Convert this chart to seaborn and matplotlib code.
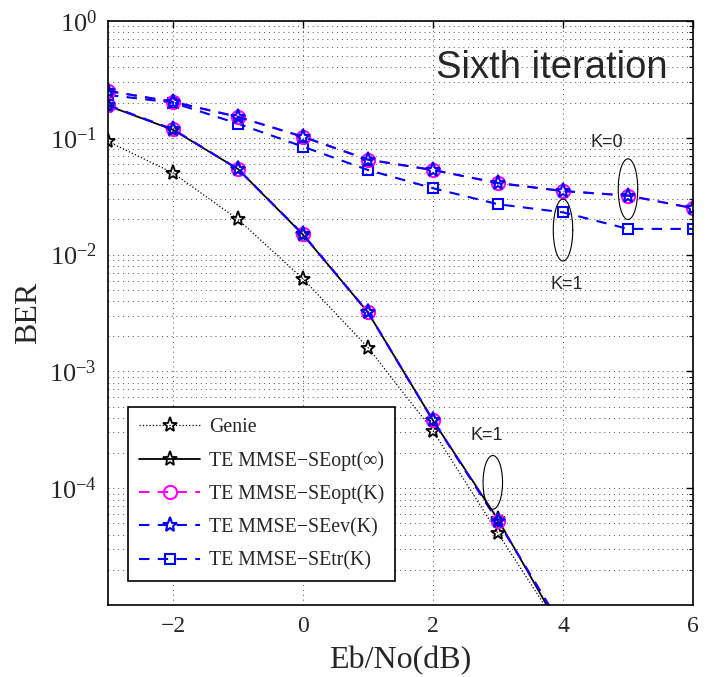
import numpy as np
import seaborn as sns
import matplotlib.pyplot as plt
from matplotlib.ticker import LogLocator, NullFormatter, LogFormatterMathtext

# Eb/No axis (dB)
ebno = [-3, -2, -1, 0, 1, 2, 3, 4, 5, 6]
ebno_low = [-3, -2, -1, 0, 1, 2, 3, 4]

# BER curves
ber_genie = [0.093, 0.050, 0.020, 0.0062, 0.0016, 3.1e-4, 4.1e-5, 5.7e-6]
ber_opt_inf = [0.188, 0.117, 0.054, 0.0148, 0.0032, 3.8e-4, 5.4e-5, 5.7e-6]
ber_opt_k1 = [0.190, 0.118, 0.054, 0.0149, 0.0032, 3.8e-4, 5.2e-5, 6.3e-6]
ber_ev_k1 = [0.190, 0.118, 0.054, 0.0149, 0.0032, 3.8e-4, 5.2e-5, 6.3e-6]
ber_opt_k0 = [0.252, 0.203, 0.151, 0.102, 0.065, 0.053, 0.041, 0.035, 0.032, 0.025]
ber_ev_k0 = [0.252, 0.203, 0.151, 0.102, 0.065, 0.053, 0.041, 0.035, 0.032, 0.025]
ber_tr_k1 = [0.233, 0.200, 0.132, 0.084, 0.053, 0.037, 0.027, 0.023, 0.0166, 0.0166]

labels = ["Genie", "TE MMSE\u2212SEopt(\u221e)", "TE MMSE\u2212SEopt(K)",
          "TE MMSE\u2212SEev(K)", "TE MMSE\u2212SEtr(K)"]

# annotation ellipses: (center x, center log10 y, half width dB, half height decades)
ell_k0 = (5.0, -1.44, 0.15, 0.26)
ell_k1_up = (4.0, -1.79, 0.15, 0.265)
ell_k1_low = (2.92, -3.95, 0.15, 0.23)


def main():
    sns.set_style("white")
    plt.rcParams['font.family'] = ['Liberation Serif', 'DejaVu Serif']
    plt.rcParams['mathtext.fontset'] = 'custom'
    plt.rcParams['mathtext.rm'] = 'Liberation Serif'
    plt.rcParams['mathtext.it'] = 'Liberation Serif:italic'

    fig = plt.figure(figsize=(7.27, 6.77), dpi=100)
    ax = fig.add_axes([108 / 727, 1 - 605 / 677, 585 / 727, 584 / 677])

    mag = '#ff00ff'
    blu = '#0000ff'
    dash = (0, (5, 4))

    common = dict(ax=ax, markerfacecolor='none', legend=False)
    sns.lineplot(x=ebno_low, y=ber_genie, color='k', lw=0.9, linestyle=':',
                 marker='*', markersize=11, markeredgecolor='k',
                 markeredgewidth=1.3, **common)
    sns.lineplot(x=ebno_low, y=ber_opt_inf, color='k', lw=1.3, linestyle='-',
                 marker='*', markersize=11, markeredgecolor='k',
                 markeredgewidth=1.3, **common)
    sns.lineplot(x=ebno_low, y=ber_opt_k1, color=mag, lw=1.5, linestyle=dash,
                 marker='o', markersize=9.5, markeredgecolor=mag,
                 markeredgewidth=1.5, **common)
    sns.lineplot(x=ebno_low, y=ber_ev_k1, color=blu, lw=1.5, linestyle=dash,
                 marker='*', markersize=11, markeredgecolor=blu,
                 markeredgewidth=1.5, **common)
    sns.lineplot(x=ebno, y=ber_tr_k1, color=blu, lw=1.5, linestyle=dash,
                 marker='s', markersize=7.5, markeredgecolor=blu,
                 markeredgewidth=1.5, **common)
    sns.lineplot(x=ebno, y=ber_opt_k0, color=mag, lw=1.5, linestyle=dash,
                 marker='o', markersize=9.5, markeredgecolor=mag,
                 markeredgewidth=1.5, **common)
    sns.lineplot(x=ebno, y=ber_ev_k0, color=blu, lw=1.5, linestyle=dash,
                 marker='*', markersize=11, markeredgecolor=blu,
                 markeredgewidth=1.5, **common)

    lines = ax.get_lines()
    handles = [lines[0], lines[1], lines[2], lines[3], lines[4]]

    # ellipses around curve groups
    t = np.linspace(0, 2 * np.pi, 200)
    for cx, cy, a, b in (ell_k0, ell_k1_up, ell_k1_low):
        ax.plot(cx + a * np.cos(t), 10 ** (cy + b * np.sin(t)), color='k', lw=0.8)

    sans = ['Liberation Sans', 'DejaVu Sans']
    ax.text(4.68, 10 ** -1.04, "K=0", family=sans, fontsize=13, ha='center', va='center')
    ax.text(4.06, 10 ** -2.26, "K=1", family=sans, fontsize=13, ha='center', va='center')
    ax.text(2.82, 10 ** -3.55, "K=1", family=sans, fontsize=13, ha='center', va='center')
    ax.text(3.83, 10 ** -0.40, "Sixth iteration", family=sans, fontsize=27.5,
            ha='center', va='center')

    ax.set_yscale('log')
    ax.set_xlim(-3, 6)
    ax.set_ylim(1e-5, 1)
    ax.set_xticks([-2, 0, 2, 4, 6])
    ax.set_xticklabels(["\u22122", "0", "2", "4", "6"])
    ax.set_yticks([1e-4, 1e-3, 1e-2, 1e-1, 1])
    ax.yaxis.set_major_formatter(LogFormatterMathtext())
    ax.yaxis.set_minor_locator(LogLocator(base=10, subs=np.arange(2, 10)))
    ax.yaxis.set_minor_formatter(NullFormatter())

    ax.grid(True, which='major', axis='both', color='0.3', lw=0.7, linestyle=(0, (1, 4)))
    ax.grid(True, which='minor', axis='y', color='0.3', lw=0.7, linestyle=(0, (1, 4)))

    ax.tick_params(which='both', direction='in', top=True, right=True, color='k')
    ax.tick_params(axis='x', labelsize=17)
    ax.tick_params(axis='y', labelsize=19)
    ax.tick_params(which='major', length=5, width=1, pad=8)
    ax.tick_params(which='minor', length=3, width=0.8)
    for s in ax.spines.values():
        s.set_color('k')
        s.set_linewidth(1.2)

    ax.set_xlabel("Eb/No(dB)", fontsize=23, labelpad=6)
    ax.set_ylabel("BER", fontsize=23, labelpad=4)

    leg = ax.legend(handles, labels, loc='upper left', bbox_to_anchor=(0.034, 0.339),
                    borderaxespad=0, fontsize=14.3, handlelength=3.1, labelspacing=0.7,
                    fancybox=False, framealpha=1, edgecolor='k', borderpad=0.55,
                    handletextpad=0.45, numpoints=1)
    leg.get_frame().set_linewidth(1.2)

    fig.savefig("out.png", dpi=100)


if __name__ == '__main__':
    main()
